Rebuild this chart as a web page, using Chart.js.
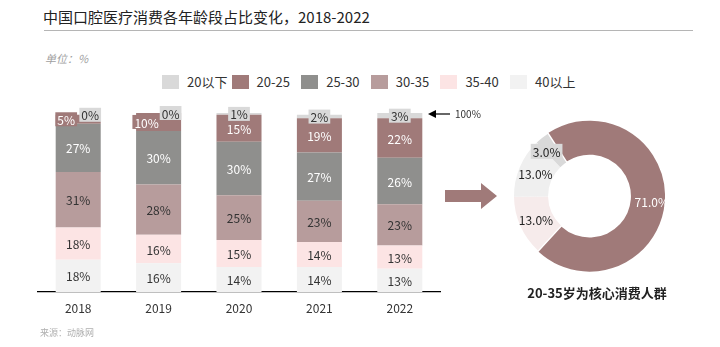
<!DOCTYPE html>
<html>
<head>
<meta charset="utf-8">
<script src="https://cdn.jsdelivr.net/npm/chart.js@4.4.1/dist/chart.umd.min.js"></script>
<style>
html, body { margin: 0; padding: 0; background: #fff; }
body { width: 720px; height: 347px; position: relative; overflow: hidden; font-family: "Noto Sans CJK SC", "Noto Sans", sans-serif; color: #333; }
#title { position: absolute; left: 43px; top: 7px; font-size: 15px; line-height: 20px; color: #222; white-space: nowrap; }
#rule { position: absolute; left: 44px; top: 30px; width: 649px; border-top: 1px solid #b5b5b5; }
#unit { position: absolute; left: 45px; top: 51px; font-size: 11px; line-height: 14px; font-style: italic; color: #a0a0a0; }
#legend { position: absolute; left: 162px; top: 73px; white-space: nowrap; font-size: 13px; }
.item { display: inline-block; width: 69.6px; height: 18px; position: relative; }
.sw { position: absolute; left: 0; top: 2px; width: 17px; height: 14px; }
.lb { position: absolute; left: 25px; top: 0; line-height: 18px; color: #333; }
#barWrap { position: absolute; left: 0; top: 0; width: 720px; height: 347px; }
#pieWrap { position: absolute; left: 511px; top: 119px; width: 154px; height: 154px; }
#pieTitle { position: absolute; left: 497px; width: 200px; text-align: center; top: 285px; font-size: 13px; line-height: 16px; font-weight: bold; color: #222; }
#source { position: absolute; left: 40px; top: 327px; font-size: 9px; line-height: 12px; color: #b0b0b0; }
</style>
</head>
<body>
<div id="title">中国口腔医疗消费各年龄段占比变化，2018-2022</div>
<div id="rule"></div>
<div id="unit">单位：%</div>
<div id="legend"></div>
<div id="barWrap"><canvas id="barChart"></canvas></div>
<div id="pieWrap"><canvas id="pieChart"></canvas></div>
<div id="pieTitle">20-35岁为核心消费人群</div>
<div id="source">来源：动脉网</div>
<script>
// data
const years = ['2018', '2019', '2020', '2021', '2022'];
const ageGroups = ['20以下', '20-25', '25-30', '30-35', '35-40', '40以上'];
const under20 = [0, 0, 1, 2, 3];
const age20to25 = [5, 10, 15, 19, 22];
const age25to30 = [27, 30, 30, 27, 26];
const age30to35 = [31, 28, 25, 23, 23];
const age35to40 = [18, 16, 15, 14, 13];
const over40 = [18, 16, 14, 14, 13];

const donutLabels = ['20-35', '35-40', '40以上', '20以下'];
const donutValues = [71, 13, 13, 3];

const groupColors = ['#d9d9d9', '#a07a79', '#8f8f8d', '#b79c9c', '#fce4e4', '#f2f2f2'];
const labelColors = ['#333', '#fff', '#fff', '#333', '#333', '#333'];
const donutColors = ['#a07a79', '#f6ebeb', '#efefef', '#d9d9d9'];
const FONT = '"Noto Sans CJK SC", "Noto Sans", sans-serif';

// html legend
const legend = document.getElementById('legend');
ageGroups.forEach((g, i) => {
    const item = document.createElement('span');
    item.className = 'item';
    item.innerHTML = '<span class="sw" style="background:' + groupColors[i] + '"></span><span class="lb">' + g + '</span>';
    legend.appendChild(item);
});

const seriesByGroup = [under20, age20to25, age25to30, age30to35, age35to40, over40];

// stack from the bottom: 40以上 first
const datasets = [];
for (let i = ageGroups.length - 1; i >= 0; i--) {
    datasets.push({
        label: ageGroups[i],
        data: seriesByGroup[i],
        backgroundColor: groupColors[i],
        borderWidth: 0,
        barPercentage: 0.56,
        categoryPercentage: 1
    });
}

function box(ctx, x, y, w, h, color) {
    ctx.fillStyle = color;
    ctx.fillRect(x - w / 2, y - h / 2, w, h);
}

const barLabels = {
    id: 'barLabels',
    afterDatasetsDraw(chart) {
        const ctx = chart.ctx;
        ctx.save();
        ctx.font = '12px ' + FONT;
        ctx.textAlign = 'center';
        ctx.textBaseline = 'middle';
        chart.data.datasets.forEach((ds, di) => {
            const gi = ageGroups.indexOf(ds.label);
            chart.getDatasetMeta(di).data.forEach((bar, i) => {
                const v = ds.data[i];
                const txt = v + '%';
                const w = ctx.measureText(txt).width;
                let x = bar.x;
                const y = (bar.y + bar.base) / 2;
                if (gi === 0) {
                    if (v === 0) x += 12;
                    box(ctx, x, y, w + 4, 14, groupColors[0]);
                } else if (gi === 1 && under20[i] === 0) {
                    x -= 12;
                    box(ctx, x, y, w + 4, 14, groupColors[1]);
                }
                ctx.fillStyle = labelColors[gi];
                ctx.fillText(txt, x, y + 1);
            });
        });
        ctx.restore();
    },
    afterDraw(chart) {
        const ctx = chart.ctx;
        const area = chart.chartArea;
        const yTop = chart.scales.y.getPixelForValue(100) + 1;
        ctx.save();
        // 100% pointer
        const tip = area.right - 12;
        ctx.strokeStyle = '#000';
        ctx.lineWidth = 1.2;
        ctx.beginPath();
        ctx.moveTo(tip + 4, yTop);
        ctx.lineTo(tip + 22, yTop);
        ctx.stroke();
        ctx.fillStyle = '#000';
        ctx.beginPath();
        ctx.moveTo(tip, yTop);
        ctx.lineTo(tip + 8, yTop - 4);
        ctx.lineTo(tip + 8, yTop + 4);
        ctx.closePath();
        ctx.fill();
        ctx.font = '10px ' + FONT;
        ctx.fillStyle = '#333';
        ctx.textBaseline = 'middle';
        ctx.fillText('100%', tip + 27, yTop);
        // big arrow toward the donut
        const ay = area.top + 83;
        const ax = area.right + 5;
        ctx.fillStyle = groupColors[1];
        ctx.beginPath();
        ctx.moveTo(ax, ay - 6);
        ctx.lineTo(ax + 36, ay - 6);
        ctx.lineTo(ax + 36, ay - 13);
        ctx.lineTo(ax + 52, ay);
        ctx.lineTo(ax + 36, ay + 13);
        ctx.lineTo(ax + 36, ay + 6);
        ctx.lineTo(ax, ay + 6);
        ctx.closePath();
        ctx.fill();
        ctx.restore();
    }
};

new Chart(document.getElementById('barChart'), {
    type: 'bar',
    data: { labels: years, datasets: datasets },
    options: {
        responsive: true,
        maintainAspectRatio: false,
        animation: false,
        layout: { padding: { left: 38, right: 280, top: 113, bottom: 25 } },
        plugins: { legend: { display: false }, tooltip: { enabled: false } },
        scales: {
            x: {
                stacked: true,
                grid: { display: false },
                border: { display: true, color: '#000', width: 1.2 },
                ticks: { color: '#333', font: { size: 12, family: FONT }, padding: 1 },
                afterFit(s) { s.height = 30; }
            },
            y: { stacked: true, display: false, min: 0, max: 100 }
        }
    },
    plugins: [barLabels]
});

const donutText = {
    id: 'donutText',
    afterDatasetsDraw(chart) {
        const ctx = chart.ctx;
        ctx.save();
        ctx.font = '12px ' + FONT;
        ctx.textAlign = 'center';
        ctx.textBaseline = 'middle';
        chart.getDatasetMeta(0).data.forEach((arc, i) => {
            const p = arc.tooltipPosition();
            let x = p.x, y = p.y;
            const txt = donutValues[i].toFixed(1) + '%';
            if (i === 0) x += 4;
            if (i === 3) {
                x -= 6;
                box(ctx, x, y, ctx.measureText(txt).width + 4, 15, donutColors[3]);
            }
            ctx.fillStyle = i === 0 ? '#fff' : '#222';
            ctx.fillText(txt, x, y + 1);
        });
        ctx.restore();
    }
};

new Chart(document.getElementById('pieChart'), {
    type: 'doughnut',
    data: {
        labels: donutLabels,
        datasets: [{
            data: donutValues,
            backgroundColor: donutColors,
            borderWidth: 0,
            offset: [6, 0, 0, 0]
        }]
    },
    options: {
        responsive: true,
        maintainAspectRatio: false,
        animation: false,
        cutout: '54%',
        rotation: -33,
        plugins: { legend: { display: false }, tooltip: { enabled: false } }
    },
    plugins: [donutText]
});
</script>
</body>
</html>
